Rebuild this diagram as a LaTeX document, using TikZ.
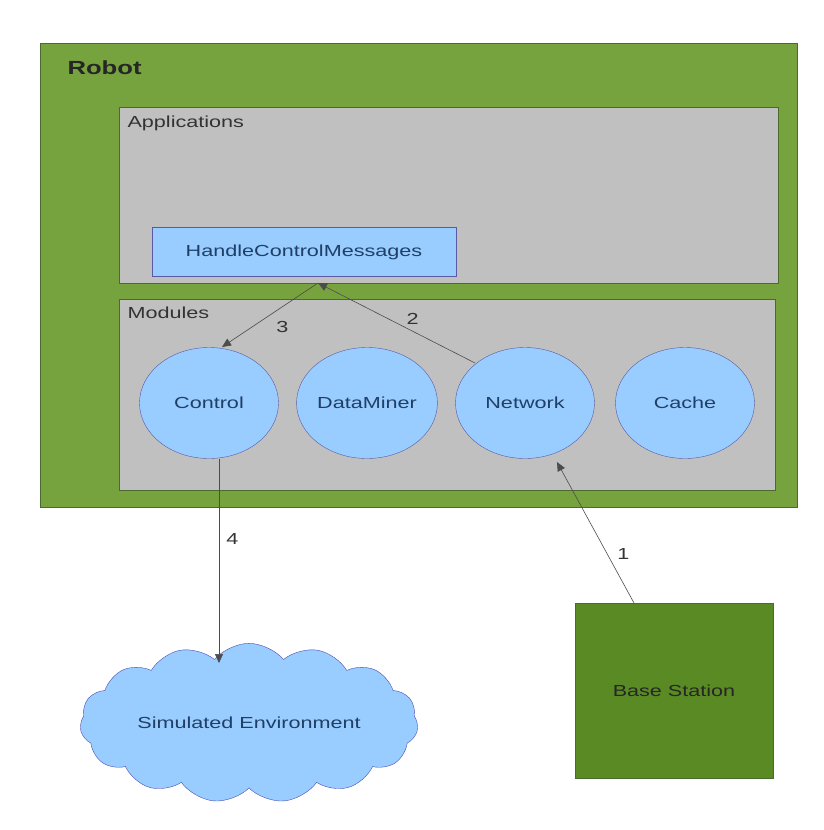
\documentclass[tikz,border=0pt]{standalone}
\usepackage{fontspec}
\setmainfont[FakeStretch=1.35]{Liberation Sans}
\usetikzlibrary{shapes.symbols,shapes.geometric,arrows.meta}
\definecolor{rgreen}{HTML}{77A33F}
\definecolor{bgreen}{HTML}{5A8A23}
\definecolor{gbord}{HTML}{4A6A30}
\definecolor{lgray}{HTML}{C0C0C0}
\definecolor{lblue}{HTML}{99CCFF}
\definecolor{dblue}{HTML}{1F3F66}
\begin{document}
\begin{tikzpicture}[x=1pt,y=-1pt,
  box/.style={draw=gbord,line width=0.8pt,anchor=north west,inner sep=0pt},
  circ/.style={ellipse,inner sep=0pt,draw=gray!70!blue,fill=lblue,minimum width=139pt,minimum height=111pt,font=\fontsize{16}{18}\selectfont,text=dblue},
  arr/.style={draw=black!70,-{Triangle[length=9pt,width=8pt]},line width=0.6pt},
  lab/.style={font=\fontsize{16}{18}\selectfont,text=black!80}]
\useasboundingbox (0,0) rectangle (824,830);
\node[box,fill=rgreen,minimum width=757pt,minimum height=464pt] (robot) at (40,43) {};
\node[anchor=north west,font=\fontsize{19}{21}\selectfont\bfseries,text=black!85] (rl) at (64,57) {Robot};
\node[box,fill=lgray,minimum width=659pt,minimum height=176pt] (apps) at (119,107) {};
\node[anchor=north west,lab] (al) at (124,112) {Applications};
\node[box,draw=gray!70!blue,fill=lblue,minimum width=304pt,minimum height=49pt,anchor=center,font=\fontsize{16}{18}\selectfont,text=dblue] (hcm) at (304,252) {HandleControlMessages};
\node[box,fill=lgray,minimum width=656pt,minimum height=191pt] (mods) at (119,299) {};
\node[anchor=north west,lab] (ml) at (124,303) {Modules};
\node[circ] (control) at (209,403) {Control};
\node[circ] (dm) at (367,403) {DataMiner};
\node[circ] (net) at (525,403) {Network};
\node[circ] (cache) at (685,403) {Cache};
\node[draw=gbord,fill=bgreen,minimum width=198pt,minimum height=175pt,font=\fontsize{16}{18}\selectfont,text=black!85] (base) at (674,690.5) {Base Station};
\node[cloud,cloud puffs=15,cloud puff arc=100,aspect=2.4,inner sep=0pt,draw=gray!60!blue,fill=lblue,minimum width=338pt,minimum height=143pt,font=\fontsize{16}{18}\selectfont,text=dblue] (env) at (249,723) {Simulated Environment};
\coordinate (hb) at (318,283);
\coordinate (ct) at (222,347);
\coordinate (nt) at (475,363);
\coordinate (nb) at (557,462);
\coordinate (bt) at (634,603);
\coordinate (cb) at (219,459);
\coordinate (et) at (219,663);
\draw[arr] (nt) -- node[lab,pos=0.45,above right,inner sep=2pt] {2} (hb);
\draw[arr] (hb) -- node[lab,pos=0.5,below right,inner sep=6pt] {3} (ct);
\draw[arr] (bt) -- node[lab,pos=0.35,right,inner sep=10pt] {1} (nb);
\draw[arr] (cb) -- node[lab,pos=0.39,right,inner sep=7pt] {4} (et);
\end{tikzpicture}
\end{document}
